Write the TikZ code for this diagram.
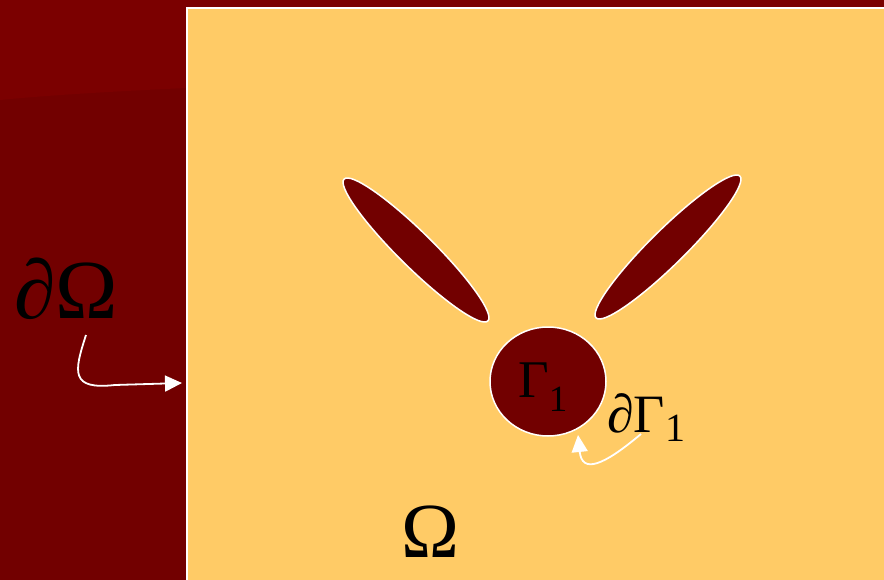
\documentclass[tikz,border=0pt]{standalone}
\usepackage{fontspec}
\setmainfont{Liberation Serif}
\usetikzlibrary{shapes.geometric,arrows.meta}
\definecolor{bgred}{HTML}{720000}
\definecolor{topred}{HTML}{7B0000}
\definecolor{dom}{HTML}{FFCB66}
\begin{document}
\begin{tikzpicture}[x=1pt,y=-1pt,
  hole/.style={ellipse, fill=bgred, draw=white, line width=1.5pt, inner sep=0pt},
  lbl/.style={inner sep=0pt, text=black},
  pointer/.style={draw=white, line width=1.8pt, -{Triangle[length=17pt,width=16pt]}}]
\useasboundingbox (0,0) rectangle (884,580);
% background
\fill[bgred] (0,0) rectangle (884,580);
\fill[topred] (0,0) -- (884,0) -- (884,88) -- (186,88) .. controls (100,92) and (40,96) .. (0,100) -- cycle;
% domain
\draw[fill=dom, draw=white, line width=2pt] (187,8) rectangle (890,590);
% holes
\node[hole, rotate=-44.6, minimum width=202pt, minimum height=35pt] (e1) at (416,250) {};
\node[hole, rotate=44.6, minimum width=202pt, minimum height=35pt] (e2) at (668,247) {};
\node[hole, minimum width=116pt, minimum height=109pt] (g1) at (548,381.5) {};
% labels
\node[lbl, anchor=base west] (dO) at (14,319) {\fontsize{84}{84}\selectfont\textit{∂}Ω};
\node[lbl, anchor=base] (O) at (430,557) {\fontsize{78}{78}\selectfont Ω};
\node[lbl, anchor=base west] (G1) at (518,397) {\fontsize{53}{53}\selectfont Γ\raisebox{-14pt}{\fontsize{37}{37}\selectfont 1}};
\node[lbl, anchor=base west] (dG1) at (607,432) {\fontsize{54}{54}\selectfont\textit{∂}Γ\raisebox{-9pt}{\fontsize{40}{40}\selectfont 1}};
% connectors
\coordinate (s1) at (86,335);
\coordinate (t1) at (182,383);
\draw[pointer] (s1) .. controls (74,372) and (70,390) .. (115,385) -- (t1);
\coordinate (s2) at (641,434);
\coordinate (t2) at (578,435);
\draw[pointer] (s2) .. controls (603,466) and (582,474) .. (t2);
\end{tikzpicture}
\end{document}
